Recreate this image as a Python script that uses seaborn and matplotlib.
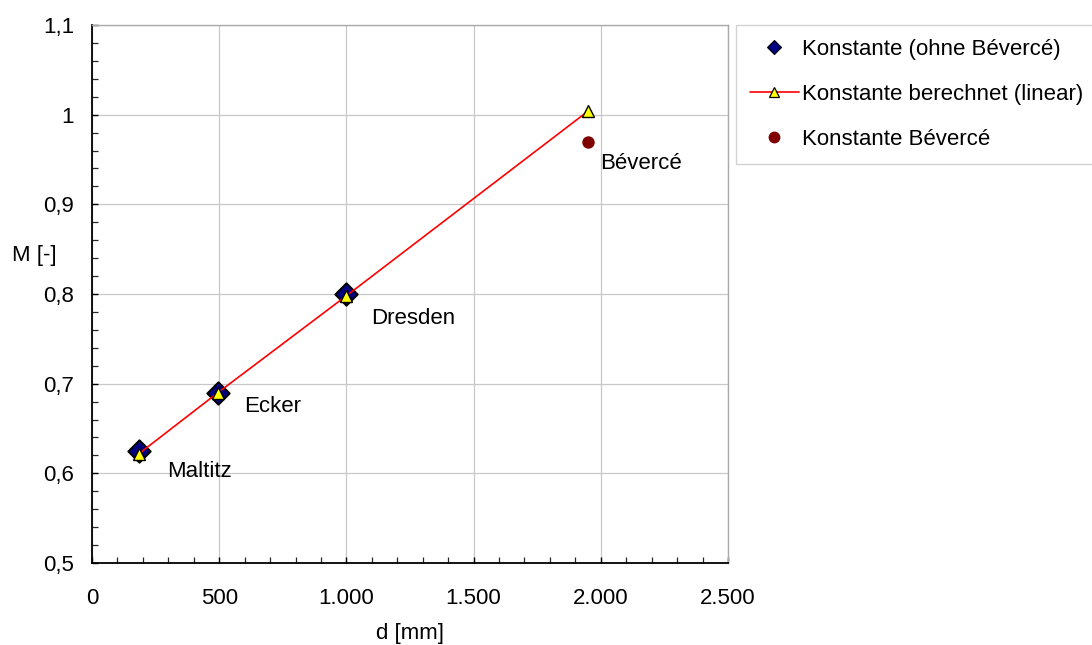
import matplotlib
matplotlib.use("Agg")
import matplotlib.pyplot as plt
import seaborn as sns
import pandas as pd
from matplotlib.ticker import MultipleLocator, FuncFormatter
from matplotlib.lines import Line2D

# Data
stations = ["Maltitz", "Ecker", "Dresden"]
d_meas = [185, 495, 1000]
m_meas = [0.625, 0.690, 0.800]

d_calc = [185, 495, 1000, 1950]
m_calc = [0.622, 0.690, 0.798, 1.004]

bev_name = "Bévercé"
d_bev = [1950]
m_bev = [0.970]

legend_labels = ["Konstante (ohne Bévercé)", "Konstante berechnet (linear)", "Konstante Bévercé"]

FS = 16

sns.set_theme(style="white")
plt.rcParams['font.family'] = ['Liberation Sans', 'DejaVu Sans']
plt.rcParams['text.color'] = 'black'

fig = plt.figure(figsize=(10.92, 6.45), dpi=100)
ax = fig.add_axes([92/1092, 1 - 563/645, (728-92)/1092, (563-25)/645])

df_meas = pd.DataFrame({"d": d_meas, "M": m_meas})
df_calc = pd.DataFrame({"d": d_calc, "M": m_calc})
df_bev = pd.DataFrame({"d": d_bev, "M": m_bev})

sns.scatterplot(data=df_meas, x="d", y="M", ax=ax, marker="D", s=130,
                color="#000080", edgecolor="black", linewidth=1.4,
                legend=False, zorder=3)
sns.lineplot(data=df_calc, x="d", y="M", ax=ax, color="red", linewidth=1.2,
             marker="^", markersize=8, markerfacecolor="yellow",
             markeredgecolor="black", markeredgewidth=1.0,
             legend=False, zorder=4)
sns.scatterplot(data=df_bev, x="d", y="M", ax=ax, marker="o", s=80,
                color="#800000", edgecolor="#800000", linewidth=0,
                legend=False, zorder=3)

# point labels (offsets are layout only)
label_offsets = [(110, -0.0235), (102, -0.015), (97, -0.027)]
for name, x, y, (dx, dy) in zip(stations, d_meas, m_meas, label_offsets):
    ax.text(x + dx, y + dy, name, fontsize=FS, ha="left", va="center", color="black")
ax.text(d_bev[0] + 47, m_bev[0] - 0.024, bev_name, fontsize=FS, ha="left",
        va="center", color="black")

ax.set_xlim(0, 2500)
ax.set_ylim(0.5, 1.1)
ax.xaxis.set_major_locator(MultipleLocator(500))
ax.xaxis.set_minor_locator(MultipleLocator(100))
ax.yaxis.set_major_locator(MultipleLocator(0.1))
ax.yaxis.set_minor_locator(MultipleLocator(0.02))

def xfmt(v, pos):
    return f"{int(round(v)):,}".replace(",", ".")

def yfmt(v, pos):
    s = f"{v:.1f}"
    if s.endswith(".0"):
        s = s[:-2]
    return s.replace(".", ",")

ax.xaxis.set_major_formatter(FuncFormatter(xfmt))
ax.yaxis.set_major_formatter(FuncFormatter(yfmt))
ax.tick_params(axis="both", which="major", direction="in", length=4, width=1,
               labelsize=FS, colors="black", bottom=True, left=True)
ax.tick_params(axis="x", which="major", pad=18)
ax.tick_params(axis="y", which="major", pad=13)
ax.tick_params(axis="both", which="minor", direction="in", length=4, width=0.9,
               bottom=True, left=True)

ax.grid(True, which="major", color="#c8c8c8", linewidth=0.9)
for s in ["left", "bottom"]:
    ax.spines[s].set_color("black")
    ax.spines[s].set_linewidth(1.3)
for s in ["top", "right"]:
    ax.spines[s].set_color("#aaaaaa")
    ax.spines[s].set_linewidth(1.0)

ax.set_xlabel("")
ax.set_ylabel("")
fig.text(410/1092, 1 - 633/645, "d [mm]", fontsize=FS, ha="center", va="center")
fig.text(34/1092, 1 - 255/645, "M [-]", fontsize=FS, ha="center", va="center")

handles = [
    Line2D([], [], linestyle="none", marker="D", markersize=7,
           markerfacecolor="#000080", markeredgecolor="black", markeredgewidth=0.8),
    Line2D([], [], color="red", linewidth=1.2, marker="^", markersize=7,
           markerfacecolor="yellow", markeredgecolor="black", markeredgewidth=0.9),
    Line2D([], [], linestyle="none", marker="o", markersize=7.5,
           markerfacecolor="#800000", markeredgecolor="#800000"),
]
leg = fig.legend(handles, legend_labels, loc="upper left",
                 bbox_to_anchor=(736/1092, 1 - 25/645),
                 frameon=True, fontsize=FS, fancybox=False, borderpad=0.63,
                 labelspacing=1.08, handlelength=2.2, handletextpad=0.15,
                 borderaxespad=0)
leg.get_frame().set_edgecolor("#c8c8c8")
leg.get_frame().set_linewidth(1.0)

fig.savefig("out.png", dpi=100)
